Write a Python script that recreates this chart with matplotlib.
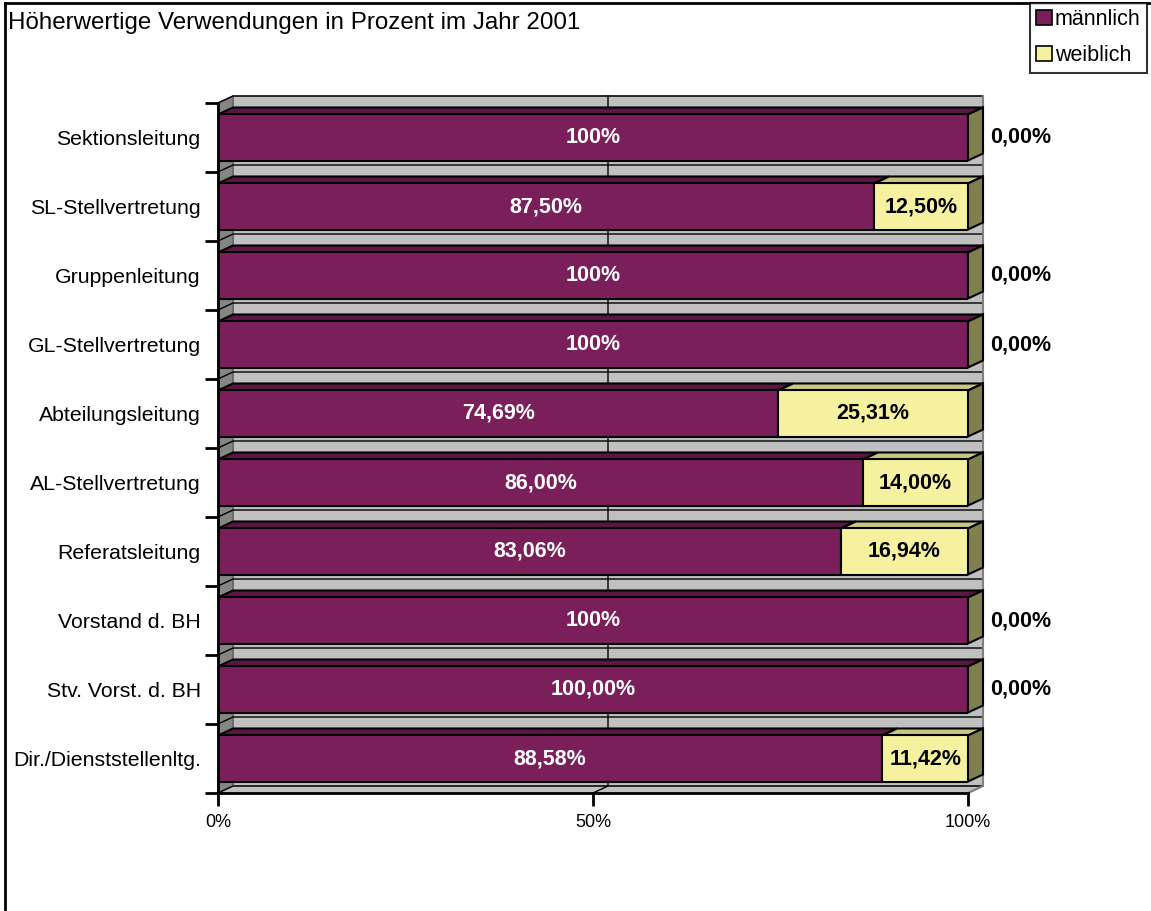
import matplotlib
matplotlib.use("Agg")
import matplotlib.pyplot as plt
from matplotlib.patches import Polygon, Patch
from matplotlib.lines import Line2D

plt.rcParams['font.family'] = ['Liberation Sans', 'DejaVu Sans']

# ---------------- data ----------------
title = "Höherwertige Verwendungen in Prozent im Jahr 2001"
categories = ["Sektionsleitung", "SL-Stellvertretung", "Gruppenleitung",
              "GL-Stellvertretung", "Abteilungsleitung", "AL-Stellvertretung",
              "Referatsleitung", "Vorstand d. BH", "Stv. Vorst. d. BH",
              "Dir./Dienststellenltg."]
maennlich = [100.0, 87.50, 100.0, 100.0, 74.69, 86.00, 83.06, 100.0, 100.0, 88.58]
weiblich = [0.0, 12.50, 0.0, 0.0, 25.31, 14.00, 16.94, 0.0, 0.0, 11.42]
maennlich_labels = ["100%", "87,50%", "100%", "100%", "74,69%", "86,00%",
                    "83,06%", "100%", "100,00%", "88,58%"]
weiblich_labels = ["0,00%", "12,50%", "0,00%", "0,00%", "25,31%", "14,00%",
                   "16,94%", "0,00%", "0,00%", "11,42%"]
series_names = ["männlich", "weiblich"]
x_ticks = [0, 50, 100]
x_ticklabels = ["0%", "50%", "100%"]

# ---------------- style ----------------
C_M_FRONT = "#7b1f5b"
C_M_TOP = "#5a1744"
C_W_FRONT = "#f5f19f"
C_W_TOP = "#c9c585"
C_W_SIDE = "#80804f"
C_WALL = "#c0c0c0"
C_SIDEWALL = "#858585"

W, H = 1151, 911
fig = plt.figure(figsize=(W / 100, H / 100), dpi=100)
fig.patch.set_facecolor("white")

x0_px, x1_px = 218, 968
y_top_px, y_bot_px = 103, 793
ax = fig.add_axes([x0_px / W, (H - y_bot_px) / H, (x1_px - x0_px) / W, (y_bot_px - y_top_px) / H])
n = len(categories)
ax.set_xlim(0, 100)
ax.set_ylim(n - 0.5, -0.5)
ax.set_facecolor("none")

# depth of 3D effect in data units (15 px right, 7 px up)
DX = 15 / ((x1_px - x0_px) / 100.0)
DY = 7 / ((y_bot_px - y_top_px) / n)
bar_h = 0.667
lw = 1.5

ylo, yhi = -0.5, n - 0.5
# back wall
ax.add_patch(Polygon([(DX, ylo - DY), (100 + DX, ylo - DY), (100 + DX, yhi - DY), (DX, yhi - DY)],
                     closed=True, fc=C_WALL, ec="#808080", lw=1.2, clip_on=False, zorder=1))
# left wall
ax.add_patch(Polygon([(0, ylo), (DX, ylo - DY), (DX, yhi - DY), (0, yhi)],
                     closed=True, fc=C_SIDEWALL, ec="#606060", lw=1.0, clip_on=False, zorder=1))
# bottom wall
ax.add_patch(Polygon([(0, yhi), (100, yhi), (100 + DX, yhi - DY), (DX, yhi - DY)],
                     closed=True, fc=C_WALL, ec="#808080", lw=1.0, clip_on=False, zorder=1))
# category gridlines on walls
for k in range(n + 1):
    b = k - 0.5
    ax.plot([0, DX, 100 + DX], [b, b - DY, b - DY], color="black", lw=1.0,
            clip_on=False, zorder=2, solid_capstyle="butt")
# value gridlines
ax.plot([50, 50 + DX, 50 + DX], [yhi, yhi - DY, ylo - DY], color="black", lw=1.0, clip_on=False, zorder=2)
ax.plot([100, 100 + DX, 100 + DX], [yhi, yhi - DY, ylo - DY], color="#808080", lw=1.5, clip_on=False, zorder=2)

# bars
ys = list(range(n))
ax.barh(ys, maennlich, height=bar_h, color=C_M_FRONT, edgecolor="black", linewidth=lw, zorder=5)
ax.barh(ys, weiblich, left=maennlich, height=bar_h, color=C_W_FRONT, edgecolor="black", linewidth=lw, zorder=5)
lab_fs = 15.5
for i in ys:
    top = i - bar_h / 2
    bot = i + bar_h / 2
    m = maennlich[i]
    w = weiblich[i]
    # top faces
    ax.add_patch(Polygon([(0, top), (m, top), (m + DX, top - DY), (DX, top - DY)], closed=True,
                         fc=C_M_TOP, ec="black", lw=lw, zorder=4, clip_on=False, joinstyle="miter"))
    if w > 0:
        ax.add_patch(Polygon([(m, top), (m + w, top), (m + w + DX, top - DY), (m + DX, top - DY)], closed=True,
                             fc=C_W_TOP, ec="black", lw=lw, zorder=4, clip_on=False, joinstyle="miter"))
    # right side face
    e = m + w
    ax.add_patch(Polygon([(e, top), (e + DX, top - DY), (e + DX, bot - DY), (e, bot)], closed=True,
                         fc=C_W_SIDE, ec="black", lw=lw, zorder=4, clip_on=False, joinstyle="miter"))
    # labels
    ax.text(m / 2, i, maennlich_labels[i], color="white", fontsize=lab_fs, fontweight="bold",
            ha="center", va="center", zorder=10)
    if w > 0:
        ax.text(m + w / 2, i, weiblich_labels[i], color="black", fontsize=lab_fs, fontweight="bold",
                ha="center", va="center", zorder=10)
    else:
        ax.text(107.0, i, weiblich_labels[i], color="black", fontsize=lab_fs, fontweight="bold",
                ha="center", va="center", zorder=10, clip_on=False)

# axes
for s in ["top", "right"]:
    ax.spines[s].set_visible(False)
ax.spines["left"].set_linewidth(2)
ax.spines["bottom"].set_linewidth(2)
ax.spines["left"].set_zorder(6)
ax.spines["bottom"].set_zorder(6)
ax.set_xticks(x_ticks)
ax.set_xticklabels(x_ticklabels, fontsize=13)
ax.tick_params(axis="x", direction="out", length=9, width=2, pad=6)
ax.set_yticks(ys)
ax.set_yticklabels(categories, fontsize=15.3)
ax.tick_params(axis="y", which="major", length=0, pad=12.5)
ax.set_yticks([k - 0.5 for k in range(n + 1)], minor=True)
ax.tick_params(axis="y", which="minor", direction="out", length=9.5, width=2)

# title
fig.text(8 / W, 1 - 23 / H, title, fontsize=17.4, ha="left", va="center")

# border lines (left and top)
fig.add_artist(Line2D([5 / W, 5 / W], [0, 1 - 3 / H], color="black", lw=2, transform=fig.transFigure))
fig.add_artist(Line2D([5 / W, 1], [1 - 3 / H, 1 - 3 / H], color="black", lw=2, transform=fig.transFigure))

# legend
handles = [Patch(fc=C_M_FRONT, ec="black", lw=1.2), Patch(fc=C_W_FRONT, ec="black", lw=1.2)]
leg = fig.legend(handles, series_names, loc="upper left", bbox_to_anchor=(1030 / W, 1 - 3 / H),
                 frameon=True, fancybox=False, edgecolor="black", fontsize=15.5,
                 handlelength=0.7, handleheight=0.7, handletextpad=0.15, borderpad=0.3,
                 borderaxespad=0.0, labelspacing=0.68)
leg.get_frame().set_linewidth(1.5)

fig.savefig("out.png", dpi=100)
